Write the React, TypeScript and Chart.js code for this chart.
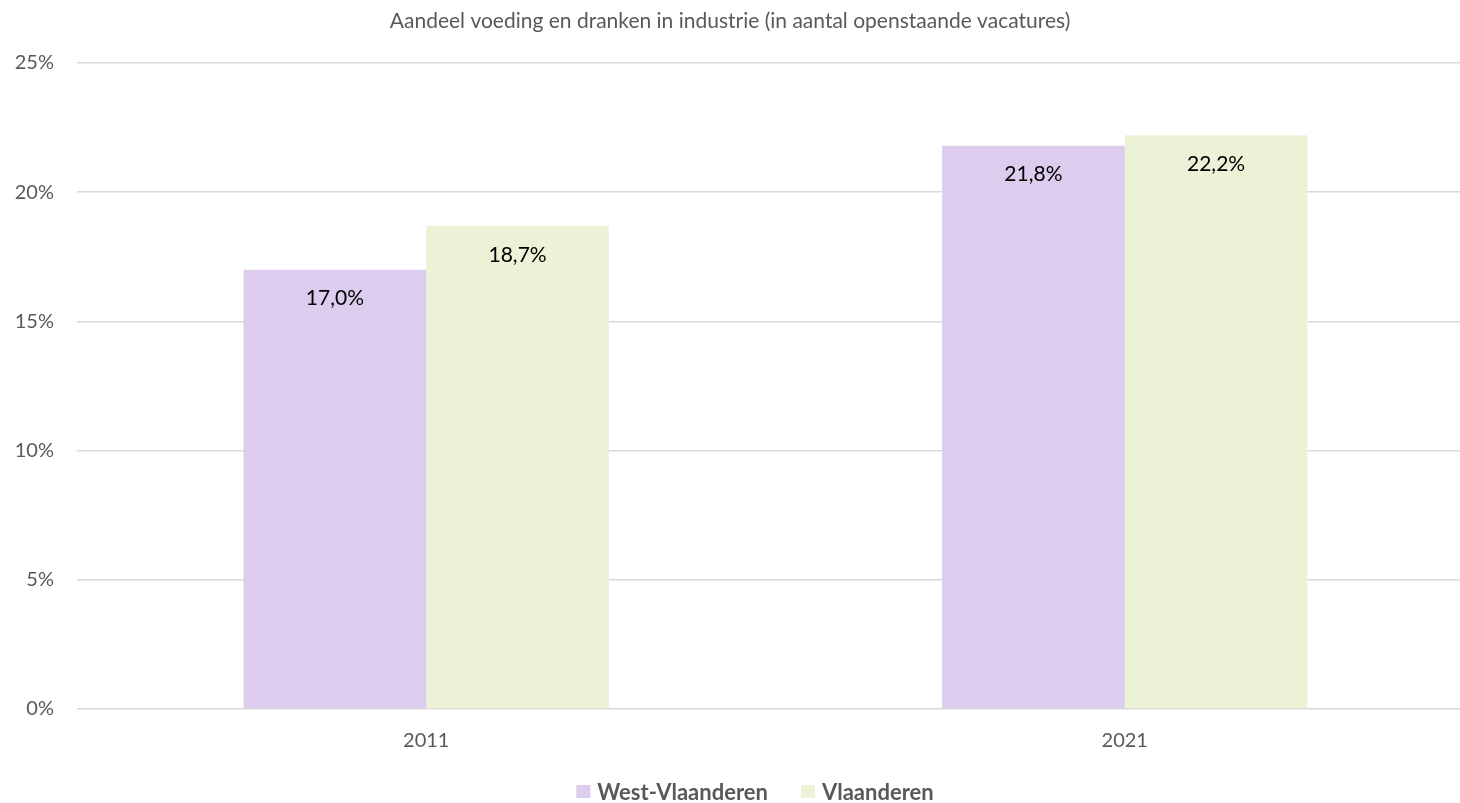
import React, { useEffect, useRef } from "react";
import { Chart, registerables } from "chart.js";

Chart.register(...registerables);

const categories = ["2011", "2021"];
const seriesNames = ["West-Vlaanderen", "Vlaanderen"];
const westVlaanderen = [17.0, 21.8];
const vlaanderen = [18.7, 22.2];
const seriesColors = ["#DCCDEE", "#EBF2D6"];
const yMax = 25;
const yStep = 5;
const titleText = "Aandeel voeding en dranken in industrie (in aantal openstaande vacatures)";

const FONT = 'Lato, "Open Sans", sans-serif';
const GREY = "#595959";

const fmt = (v: number) => v.toFixed(1).replace(".", ",") + "%";

const decorPlugin = {
  id: "decor",
  afterDatasetsDraw(chart: any) {
    const ctx = chart.ctx;
    ctx.save();
    ctx.font = `21px ${FONT}`;
    ctx.fillStyle = "#000000";
    ctx.textAlign = "center";
    ctx.textBaseline = "middle";
    chart.data.datasets.forEach((ds: any, di: number) => {
      const meta = chart.getDatasetMeta(di);
      meta.data.forEach((el: any, i: number) => {
        ctx.fillText(fmt(ds.data[i]), el.x, el.y + 29);
      });
    });
    ctx.restore();
  },
  afterDraw(chart: any) {
    const ctx = chart.ctx;
    ctx.save();
    ctx.font = `21px ${FONT}`;
    ctx.fillStyle = GREY;
    ctx.textAlign = "center";
    ctx.textBaseline = "middle";
    ctx.fillText(titleText, 730, 21);
    ctx.font = `bold 22px ${FONT}`;
    ctx.textAlign = "left";
    const box = 14;
    const gap = 7;
    const itemGap = 33;
    const widths = chart.data.datasets.map((d: any) => ctx.measureText(d.label).width);
    const total = widths.reduce((a: number, w: number) => a + box + gap + w, 0) + itemGap * (widths.length - 1);
    let x = 755 - total / 2;
    const y = 792;
    chart.data.datasets.forEach((d: any, i: number) => {
      ctx.fillStyle = d.backgroundColor;
      ctx.fillRect(x, y - box / 2, box, box - 1);
      x += box + gap;
      ctx.fillStyle = GREY;
      ctx.fillText(d.label, x, y + 1);
      x += widths[i] + itemGap;
    });
    ctx.restore();
  },
};

export default function App() {
  const ref = useRef<HTMLCanvasElement | null>(null);
  useEffect(() => {
    if (!ref.current) return;
    const chart = new Chart(ref.current, {
      type: "bar",
      data: {
        labels: categories,
        datasets: [
          { label: seriesNames[0], data: westVlaanderen, backgroundColor: seriesColors[0] },
          { label: seriesNames[1], data: vlaanderen, backgroundColor: seriesColors[1] },
        ],
      },
      options: {
        animation: false,
        responsive: false,
        layout: { padding: { top: 63, bottom: 44, left: 0, right: 0 } },
        datasets: { bar: { categoryPercentage: 0.523, barPercentage: 1, borderWidth: 0 } },
        plugins: { legend: { display: false }, title: { display: false }, tooltip: { enabled: false } },
        scales: {
          x: {
            offset: true,
            grid: { display: false, drawTicks: false },
            border: { display: false },
            ticks: { color: GREY, font: { family: FONT, size: 20 }, padding: 20 },
            afterFit: (s: any) => { s.height = 50; },
          },
          y: {
            min: 0,
            max: yMax,
            ticks: { stepSize: yStep, color: GREY, font: { family: FONT, size: 20 }, padding: 23, callback: (v: any) => v + "%" },
            grid: { color: "#D9D9D9", lineWidth: 1.5, drawTicks: false },
            border: { display: false },
            afterFit: (s: any) => { s.width = 77; },
          },
        },
      },
      plugins: [decorPlugin],
    } as any);
    return () => chart.destroy();
  }, []);
  return (
    <div style={{ position: "fixed", left: 0, top: 0, width: 1460, height: 803, overflow: "hidden", background: "#fff" }}>
      <div style={{ width: 1474, height: 803 }}>
        <canvas ref={ref} width={1474} height={803} style={{ width: 1474, height: 803, display: "block" }} />
      </div>
    </div>
  );
}
